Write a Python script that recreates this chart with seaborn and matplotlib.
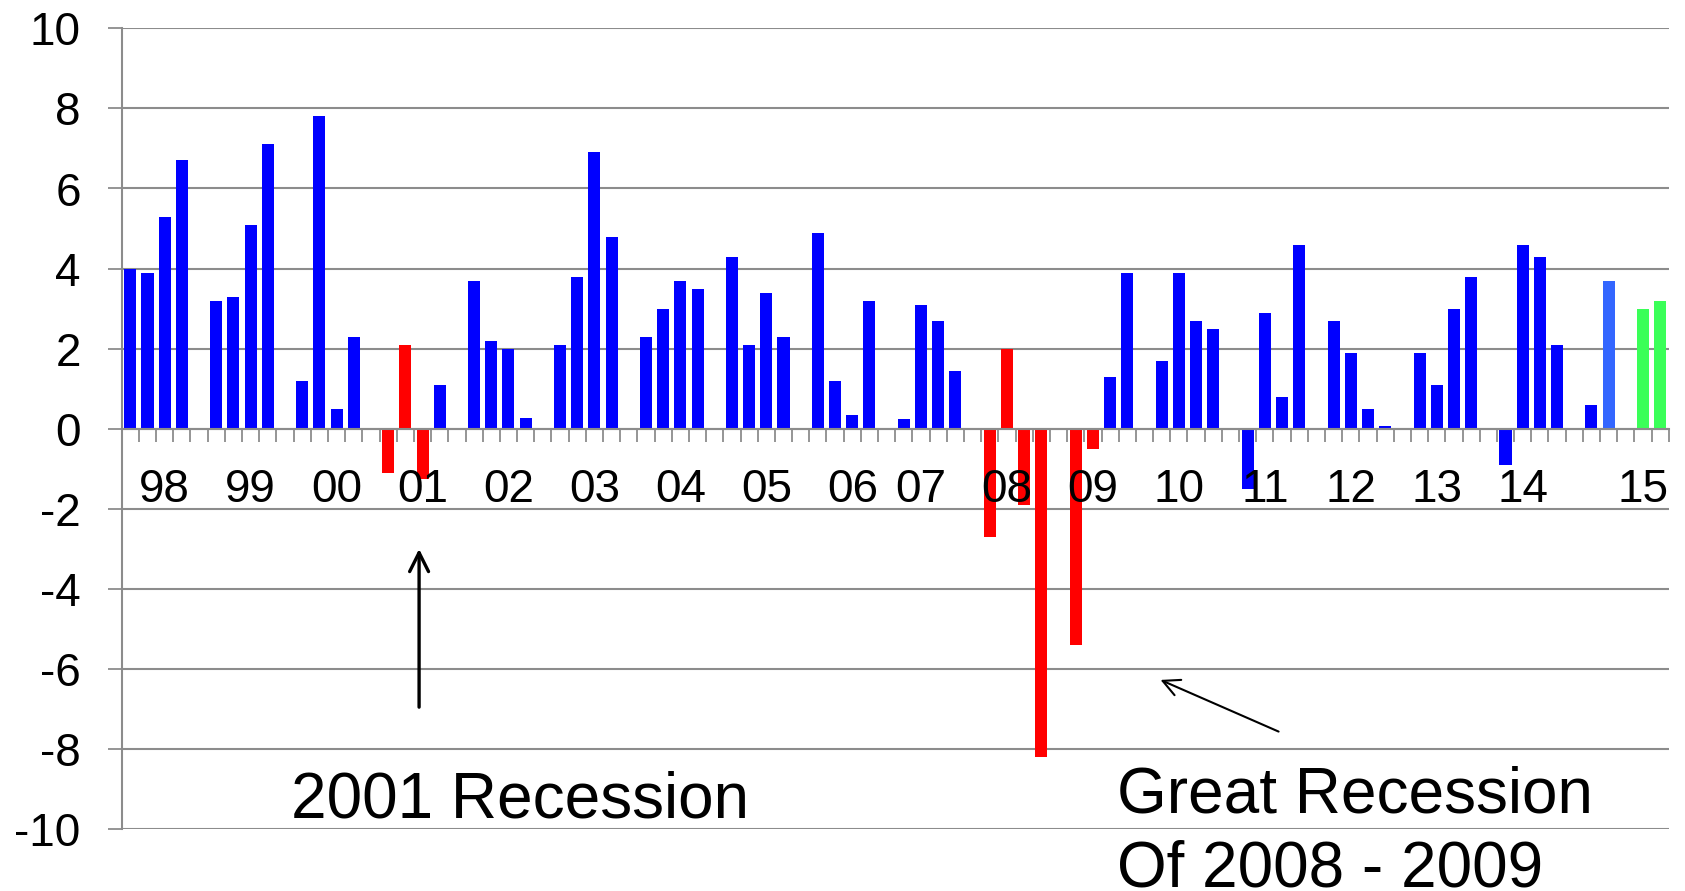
import numpy as np
import pandas as pd
import matplotlib
matplotlib.use("Agg")
import matplotlib.pyplot as plt
import seaborn as sns

# Real GDP growth, quarterly, annualized percent change (1998 Q1 .. 2015 Q4)
years = list(range(1998, 2016))
year_labels = ["98", "99", "00", "01", "02", "03", "04", "05", "06",
               "07", "08", "09", "10", "11", "12", "13", "14", "15"]

growth = [
    4.0, 3.9, 5.3, 6.7,     # 1998
    3.2, 3.3, 5.1, 7.1,     # 1999
    1.2, 7.8, 0.5, 2.3,     # 2000
    -1.1, 2.1, -1.25, 1.1,  # 2001
    3.7, 2.2, 2.0, 0.26,    # 2002
    2.1, 3.8, 6.9, 4.8,     # 2003
    2.3, 3.0, 3.7, 3.5,     # 2004
    4.3, 2.1, 3.4, 2.3,     # 2005
    4.9, 1.2, 0.35, 3.2,    # 2006
    0.24, 3.1, 2.7, 1.45,   # 2007
    -2.7, 2.0, -1.9, -8.2,  # 2008
    -5.4, -0.5, 1.3, 3.9,   # 2009
    1.7, 3.9, 2.7, 2.5,     # 2010
    -1.5, 2.9, 0.8, 4.6,    # 2011
    2.7, 1.9, 0.5, 0.07,    # 2012
    1.9, 1.1, 3.0, 3.8,     # 2013
    -0.9, 4.6, 4.3, 2.1,    # 2014
    0.6, 3.7, 3.0, 3.2,     # 2015
]

# Phase of each quarter: expansion, recession, latest estimate, forecast
recession_quarters = ["2001Q1", "2001Q2", "2001Q3",
                      "2008Q1", "2008Q2", "2008Q3", "2008Q4",
                      "2009Q1", "2009Q2"]
latest_quarters = ["2015Q2"]
forecast_quarters = ["2015Q3", "2015Q4"]

phase_colors = {
    "expansion": "#0000FF",
    "recession": "#FF0000",
    "latest": "#3366FF",
    "forecast": "#3AFF58",
}

# ---- build the table: each year gets 4 quarter slots plus one blank slot
rows = []
for i, (yr, q) in enumerate([(y, q) for y in years for q in range(1, 5)]):
    key = f"{yr}Q{q}"
    if key in recession_quarters:
        phase = "recession"
    elif key in latest_quarters:
        phase = "latest"
    elif key in forecast_quarters:
        phase = "forecast"
    else:
        phase = "expansion"
    slot = 5 * (yr - years[0]) + (q - 1) + (1 if phase == "forecast" else 0)
    rows.append({"slot": slot, "growth": growth[i], "phase": phase})
df = pd.DataFrame(rows)
n_slots = 5 * len(years)

# slot over which each year label sits
label_slots = [2, 7, 12, 17, 22, 27, 32, 37, 42, 46, 51, 56, 61, 66, 71, 76, 81, 88]

sns.set_style("white")
plt.rcParams["font.family"] = ["Liberation Sans", "DejaVu Sans"]
plt.rcParams["text.color"] = "black"
plt.rcParams["ytick.labelcolor"] = "black"

W, H, DPI = 1685, 891, 100
fig = plt.figure(figsize=(W / DPI, H / DPI), dpi=DPI)
ax = fig.add_axes([121.7 / W, 1 - 829.3 / H, (1668.8 - 121.7) / W, (829.3 - 28.3) / H])

sns.barplot(data=df, x="slot", y="growth", hue="phase", order=list(range(n_slots)),
            palette=phase_colors, dodge=False, width=0.7, legend=False,
            saturation=1, linewidth=0, ax=ax, zorder=3)

grid_c = "#8C8C8C"
ax.set_xlim(-0.5, n_slots - 0.5)
ax.set_ylim(-10, 10)

yt = np.arange(-10, 11, 2)
ax.set_yticks(yt)
ax.set_yticklabels([str(v) for v in yt])
ax.yaxis.grid(True, color=grid_c, linewidth=1.5, zorder=0)
ax.xaxis.grid(False)
ax.set_axisbelow(True)
ax.tick_params(axis="y", direction="out", length=10, width=1.3, color=grid_c,
               pad=19.5, labelsize=33, labelcolor="black", left=True)

# category boundary ticks on the zero line
ax.spines["bottom"].set_position(("data", 0))
ax.spines["bottom"].set_color(grid_c)
ax.spines["bottom"].set_linewidth(1.5)
ax.spines["bottom"].set_zorder(4)
ax.spines["left"].set_color(grid_c)
ax.spines["left"].set_linewidth(1.5)
ax.spines["top"].set_visible(False)
ax.spines["right"].set_visible(False)
ax.set_xticks(np.arange(-0.5, n_slots, 1.0))
ax.set_xticklabels([])
ax.tick_params(axis="x", direction="out", length=9, width=1.3, color=grid_c, bottom=True)
ax.set_xlabel("")
ax.set_ylabel("")

for pos, lab in zip(label_slots, year_labels):
    ax.text(pos, -1.84, lab, ha="center", va="baseline", fontsize=33,
            color="black", zorder=6)

# recession annotations
ax.text(9.33, -9.71, "2001 Recession", ha="left", va="baseline", fontsize=46,
        color="black", zorder=6)
ax.annotate("", xy=(16.8, -3.0), xytext=(16.8, -6.95),
            arrowprops=dict(arrowstyle="->", lw=2.4, color="black", mutation_scale=34,
                            shrinkA=0, shrinkB=0))
ax.text(57.4, -9.59, "Great Recession", ha="left", va="baseline", fontsize=46,
        color="black", zorder=6)
ax.text(57.4, -11.42, "Of 2008 - 2009", ha="left", va="baseline", fontsize=46,
        color="black", zorder=6, clip_on=False)
ax.annotate("", xy=(59.93, -6.27), xytext=(66.8, -7.56),
            arrowprops=dict(arrowstyle="->", lw=1.5, color="black", mutation_scale=30,
                            shrinkA=0, shrinkB=0))

fig.savefig("out.png", dpi=DPI)
